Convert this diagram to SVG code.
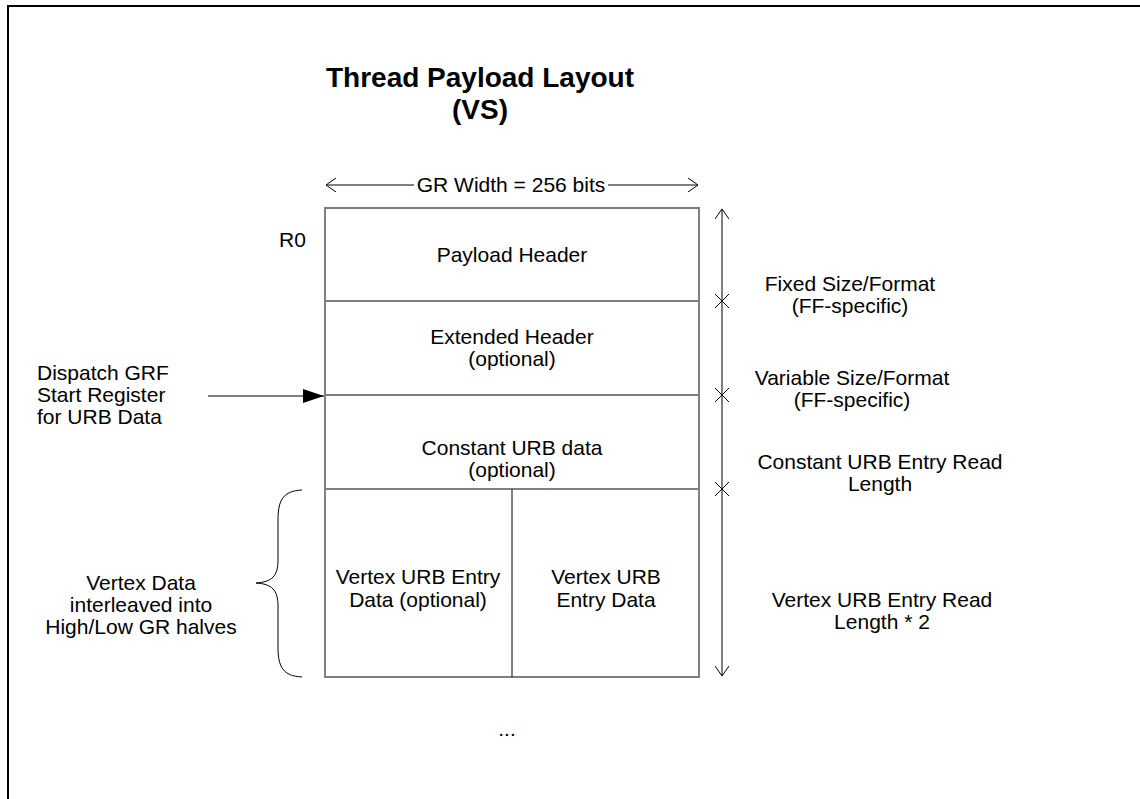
<svg xmlns="http://www.w3.org/2000/svg" width="1140" height="799" viewBox="0 0 1140 799">
  <style>
    text { font-family: "Liberation Sans", Arial, sans-serif; font-size: 21px; fill: #000; }
    .title { font-size: 28px; font-weight: bold; }
    .c { text-anchor: middle; }
    .thin { stroke: #000; stroke-width: 1; fill: none; }
    .side { stroke: #808080; stroke-width: 2; fill: none; }
  </style>
  <defs>
    <marker id="open" markerWidth="12" markerHeight="14" refX="11" refY="7" orient="auto-start-reverse" markerUnits="userSpaceOnUse">
      <path d="M1,0 L11,7 L1,14" fill="none" stroke="#000" stroke-width="1"/>
    </marker>
    <marker id="solid" markerWidth="22" markerHeight="14" refX="21" refY="7" orient="auto" markerUnits="userSpaceOnUse">
      <path d="M0,0 L21,7 L0,14 Z" fill="#000"/>
    </marker>
    <path id="xmark" d="M-7,-7 L7,7 M-7,7 L7,-7" stroke="#000" stroke-width="1" fill="none"/>
  </defs>

  <rect width="1140" height="799" fill="#fff"/>
  <!-- page frame (top and left edges) -->
  <path d="M8,799 V6 H1140" fill="none" stroke="#000" stroke-width="2"/>

  <g id="title">
    <text class="title c" x="480" y="87">Thread Payload Layout</text>
    <text class="title c" x="480" y="119">(VS)</text>
  </g>

  <g id="payload-header">
    <text x="279" y="247">R0</text>
    <text class="c" x="512" y="262">Payload Header</text>
  </g>
  <g id="extended-header">
    <text class="c" x="512" y="344">Extended Header</text>
    <text class="c" x="512" y="366">(optional)</text>
  </g>
  <g id="constant-urb">
    <text class="c" x="512" y="455">Constant URB data</text>
    <text class="c" x="512" y="477">(optional)</text>
  </g>
  <g id="vertex-urb-low">
    <text class="c" x="418" y="584">Vertex URB Entry</text>
    <text class="c" x="418" y="607">Data (optional)</text>
  </g>
  <g id="vertex-urb-high">
    <text class="c" x="606" y="584">Vertex URB</text>
    <text class="c" x="606" y="607">Entry Data</text>
  </g>

  <!-- register block outline -->
  <g id="register-block">
    <path class="thin" d="M325,208 H699 M325,301 H699 M325,395 H699 M325,489 H699 M325,677 H699 M512,489 V677"/>
    <path class="side" d="M325,207 V678 M699,207 V678"/>
  </g>

  <g id="right-labels">
    <text class="c" x="850" y="291">Fixed Size/Format</text>
    <text class="c" x="850" y="313">(FF-specific)</text>
    <text class="c" x="852" y="385">Variable Size/Format</text>
    <text class="c" x="852" y="407">(FF-specific)</text>
    <text class="c" x="880" y="469">Constant URB Entry Read</text>
    <text class="c" x="880" y="491">Length</text>
    <text class="c" x="882" y="607">Vertex URB Entry Read</text>
    <text class="c" x="882" y="629">Length * 2</text>
  </g>

  <g id="dispatch-label">
    <text x="37" y="380">Dispatch GRF</text>
    <text x="37" y="402">Start Register</text>
    <text x="37" y="424">for URB Data</text>
  </g>

  <g id="vertex-label">
    <text class="c" x="141" y="590">Vertex Data</text>
    <text class="c" x="141" y="612">interleaved into</text>
    <text class="c" x="141" y="634">High/Low GR halves</text>
  </g>

  <text class="c" x="507" y="736">...</text>

  <g id="connectors">
    <!-- register width -->
    <line class="thin" x1="326" y1="185" x2="414" y2="185" marker-start="url(#open)"/>
    <line class="thin" x1="608" y1="185" x2="698" y2="185" marker-end="url(#open)"/>
    <text class="c" x="511" y="192">GR Width = 256 bits</text>
    <!-- vertical extent -->
    <line class="thin" x1="722" y1="209" x2="722" y2="676" marker-start="url(#open)" marker-end="url(#open)"/>
    <use href="#xmark" x="722" y="301"/>
    <use href="#xmark" x="722" y="395"/>
    <use href="#xmark" x="722" y="489"/>
    <!-- dispatch start pointer -->
    <line class="thin" x1="208" y1="396" x2="324" y2="396" marker-end="url(#solid)"/>
    <!-- vertex data brace -->
    <path class="thin" d="M302,490 C283,491 278,500 278,520 L278,560 C278,576 272,582 256,583 C272,584 278,590 278,606 L278,647 C278,667 283,676 302,677"/>
  </g>
</svg>
